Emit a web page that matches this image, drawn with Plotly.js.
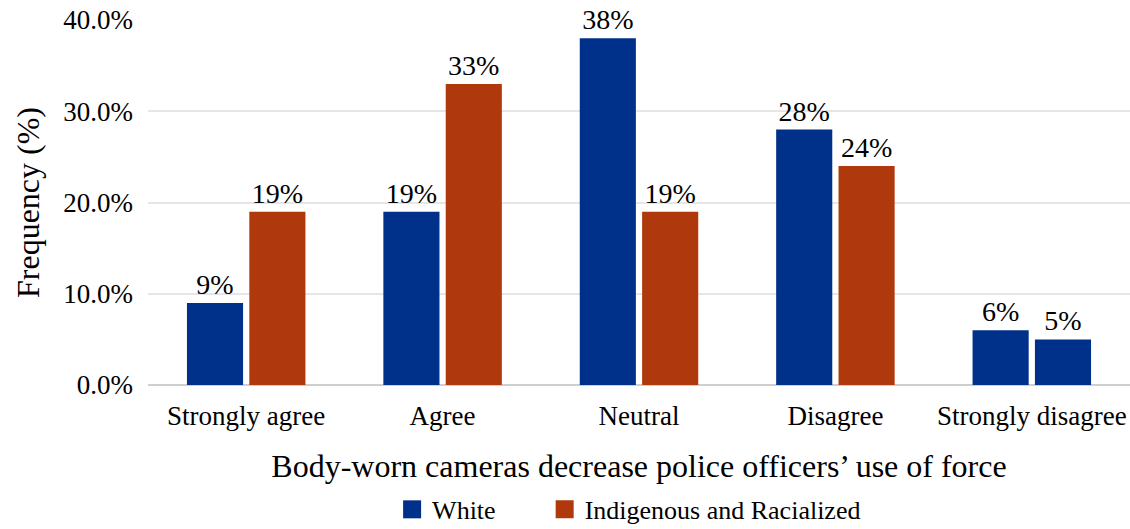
<!DOCTYPE html>
<html><head><meta charset="utf-8">
<script src="https://cdn.plot.ly/plotly-3.0.1.min.js"></script>
<style>body{margin:0;background:#fff}#chart{width:1130px;height:529px}</style>
</head><body><div id="chart"></div>
<script>
const categories = ["Strongly agree","Agree","Neutral","Disagree","Strongly disagree"];
const whiteValues = [9, 19, 38, 28, 6];
const indigValues = [19, 33, 19, 24, 5];
const seriesNames = ["White","Indigenous and Racialized"];
const blue = "#00318a", red = "#b0380d";
const font = {family:"Liberation Serif, Times New Roman, serif", color:"#000"};
const traces = [
  {type:"bar", name:seriesNames[0], x:categories, y:whiteValues, legend:"legend",
   text:whiteValues.map(v=>v+"%"), textposition:"outside", cliponaxis:false,
   textfont:{...font,size:28}, marker:{color:blue}, hoverinfo:"none"},
  {type:"bar", name:seriesNames[1], x:categories, y:indigValues, legend:"legend2",
   text:indigValues.map(v=>v+"%"), textposition:"outside", cliponaxis:false,
   textfont:{...font,size:28},
   marker:{color:categories.map((c,i)=> i===categories.length-1 ? blue : red)}, hoverinfo:"none"}
];
const legBase = {orientation:"h", xref:"container", yref:"container", y:0.037, yanchor:"middle", xanchor:"left",
                 font:{...font,size:26}, itemwidth:30, bgcolor:"rgba(0,0,0,0)"};
const layout = {
  width:1130, height:529,
  margin:{l:148, r:0, t:20, b:144, autoexpand:false},
  paper_bgcolor:"#fff", plot_bgcolor:"#fff",
  font:{...font, size:26},
  barmode:"group", bargap:0.365, bargroupgap:0.1,
  showlegend:true,
  legend:{...legBase, x:0.347},
  legend2:{...legBase, x:0.482},
  xaxis:{type:"category", range:[-0.5,4.5], showgrid:false, zeroline:false, showline:false, automargin:false,
         ticks:"", tickfont:{...font,size:27}, ticklabelstandoff:12,
         title:{text:"Body-worn cameras decrease police officers’ use of force", font:{...font,size:32}, standoff:24}},
  yaxis:{range:[0,40], tickvals:[0,10,20,30,40], ticktext:["0.0%","10.0%","20.0%","30.0%","40.0%"], automargin:false,
         showgrid:true, gridcolor:"#e6e6e6", gridwidth:2, zeroline:true, zerolinecolor:"#cfcfcf", zerolinewidth:2,
         showline:false, ticks:"", tickfont:{...font,size:27}, ticklabelstandoff:14,
         title:{text:"Frequency (%)", font:{...font,size:32}, standoff:14}}
};
Plotly.newPlot("chart", traces, layout, {staticPlot:true, displayModeBar:false}).then(gd=>{
  gd.querySelectorAll(".legendpoints path").forEach(p=>{
    const t = p.getAttribute("transform") || "";
    p.setAttribute("transform", t + " scale(1.5)");
  });
});
</script></body></html>
